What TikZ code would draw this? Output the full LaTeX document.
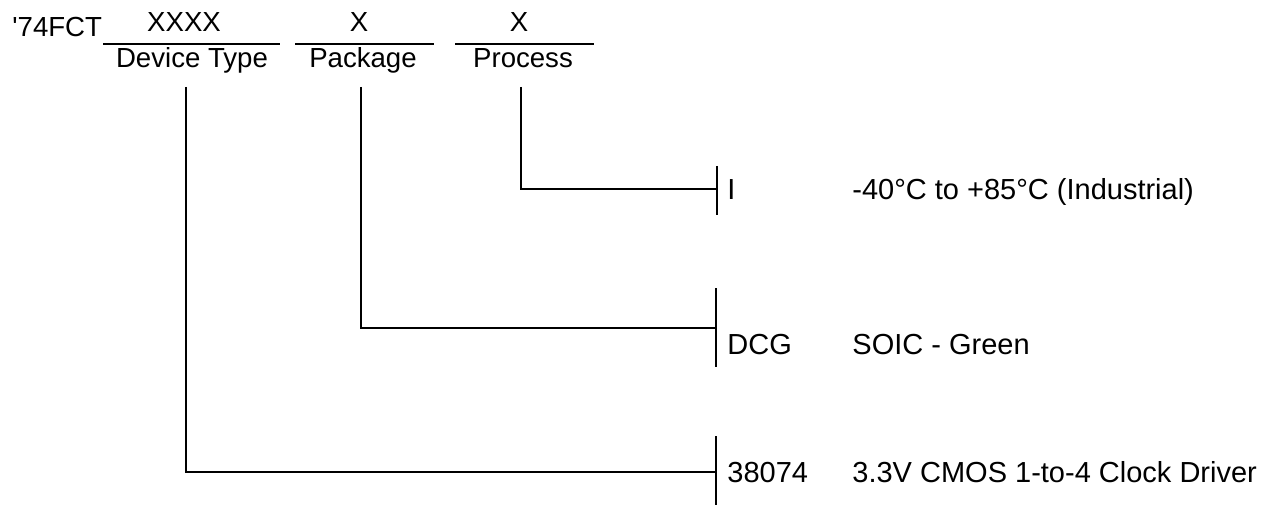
\documentclass[tikz,border=0pt]{standalone}
\usepackage{fontspec}
\newfontfamily\lsans{Liberation Sans}
\tikzset{
  hd/.style={inner sep=0pt, anchor=base, font=\lsans\fontsize{13.8}{16}\selectfont},
  lbl/.style={inner sep=0pt, anchor=base west, font=\lsans\fontsize{14.5}{17}\selectfont},
  ln/.style={line width=1.3pt},
}
\begin{document}
\begin{tikzpicture}[x=0.5pt,y=-0.5pt]
    \useasboundingbox (0,0) rectangle (1264,508);
      \node[hd, anchor=base west] (pre) at (12,37) {'74FCT};
      \node[hd] (xdev) at (184,32) {XXXX}; \node[hd] (xpkg) at (359,32) {X}; \node[hd] (xprc) at (519,32) {X};
      \node[hd] (dev) at (192,68) {Device Type}; \node[hd] (pkg) at (363,68) {Package}; \node[hd] (prc) at (523,68) {Process};
      \coordinate (u1a) at (103,44); \coordinate (u1b) at (280,44);
      \coordinate (u2a) at (295,44); \coordinate (u2b) at (434,44);
      \coordinate (u3a) at (455,44); \coordinate (u3b) at (594,44);
      \draw[ln] (u1a) -- (u1b); \draw[ln] (u2a) -- (u2b); \draw[ln] (u3a) -- (u3b);
      \coordinate (dv) at (186,87); \coordinate (pv) at (361,87); \coordinate (rv) at (521,87);
      \coordinate (rb1) at (717,166); \coordinate (rb2) at (717,215);
      \coordinate (pb1) at (716,288); \coordinate (pb2) at (716,367);
      \coordinate (db1) at (716,436); \coordinate (db2) at (716,505);
      \draw[ln] (rb1) -- (rb2); \draw[ln] (pb1) -- (pb2); \draw[ln] (db1) -- (db2);
      \draw[ln] (rv) |- (717,189); \draw[ln] (pv) |- (716,328); \draw[line width=1pt] (dv) |- (716,472);
      \node[lbl] (ci) at (727,199) {I}; \node[lbl] (ti) at (852,199) {-40°C to +85°C (Industrial)};
      \node[lbl] (cp) at (727,354) {DCG}; \node[lbl] (tp) at (852,354) {SOIC - Green};
      \node[lbl] (cd) at (727,482) {38074}; \node[lbl] (td) at (852,482) {3.3V CMOS 1-to-4 Clock Driver};
    \end{tikzpicture}
\end{document}
